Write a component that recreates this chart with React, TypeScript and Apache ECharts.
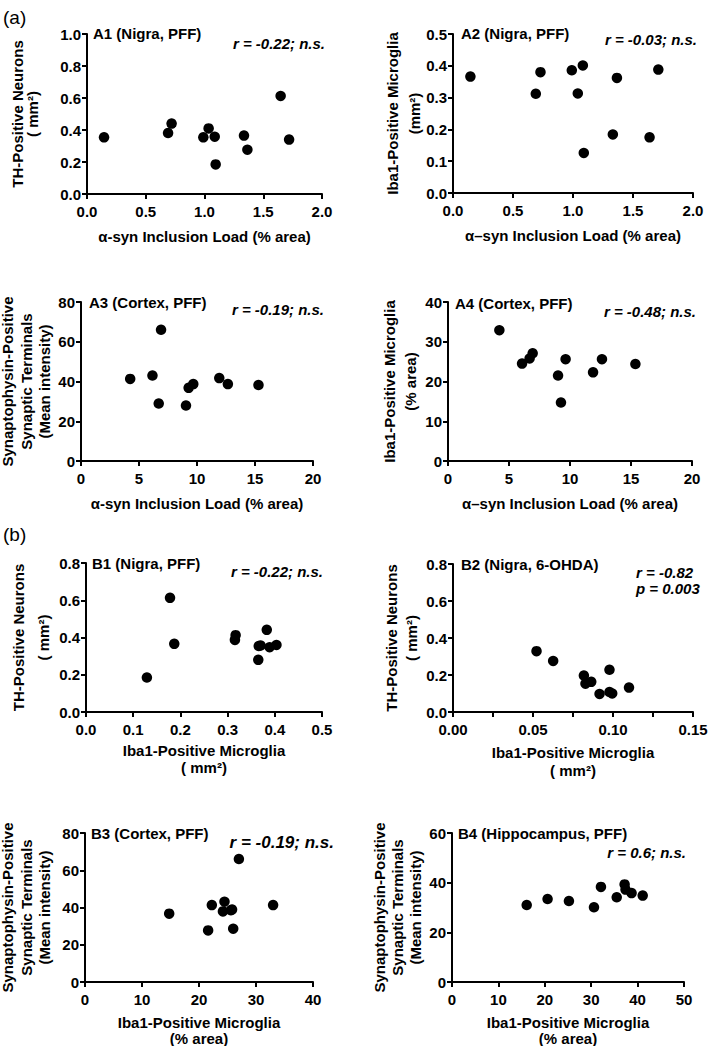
import React, { useEffect, useRef } from "react";
import * as echarts from "echarts";

// ---------- data ----------
const A1_LOAD = [0.145, 0.69, 0.72, 0.99, 1.035, 1.087, 1.095, 1.336, 1.365, 1.648, 1.72];
const A1_TH = [0.354, 0.381, 0.44, 0.354, 0.41, 0.358, 0.185, 0.365, 0.277, 0.6125, 0.34];

const A2_LOAD = [0.145, 0.69, 0.729, 0.99, 1.04, 1.082, 1.09, 1.332, 1.366, 1.638, 1.711];
const A2_IBA1 = [0.366, 0.312, 0.38, 0.386, 0.313, 0.401, 0.126, 0.184, 0.362, 0.175, 0.388];

const A3_LOAD = [4.24, 6.16, 6.9, 6.7, 9.05, 9.28, 9.68, 11.92, 12.66, 15.3];
const A3_SYN = [41.3, 43.0, 66.0, 28.9, 27.9, 36.8, 38.7, 41.7, 38.7, 38.2];

const A4_LOAD = [4.21, 6.07, 6.69, 6.94, 9.02, 9.26, 9.64, 11.89, 12.62, 15.36];
const A4_IBA1 = [32.9, 24.5, 25.8, 27.1, 21.5, 14.7, 25.6, 22.3, 25.6, 24.4];

const B1_IBA1 = [0.129, 0.178, 0.187, 0.3155, 0.317, 0.365, 0.366, 0.37, 0.383, 0.389, 0.4035];
const B1_TH = [0.185, 0.613, 0.366, 0.387, 0.4126, 0.28, 0.354, 0.357, 0.441, 0.348, 0.36];

const B2_IBA1 = [0.0522, 0.0626, 0.0818, 0.0828, 0.0864, 0.0916, 0.0978, 0.0978, 0.0995, 0.11];
const B2_TH = [0.329, 0.276, 0.197, 0.153, 0.163, 0.0975, 0.228, 0.108, 0.1, 0.132];

const B3_IBA1 = [14.77, 21.6, 22.25, 24.47, 24.2, 25.6, 25.8, 26.0, 27.0, 33.0];
const B3_SYN = [36.7, 27.7, 41.3, 43.1, 37.9, 38.5, 38.9, 28.6, 66.0, 41.3];

const B4_IBA1 = [16.1, 20.6, 25.2, 30.6, 32.1, 35.5, 37.2, 37.4, 38.7, 41.1];
const B4_SYN = [31.0, 33.4, 32.6, 30.1, 38.3, 34.1, 39.3, 37.2, 35.8, 34.8];

const PANEL_TITLES = [
  "A1 (Nigra, PFF)",
  "A2 (Nigra, PFF)",
  "A3 (Cortex, PFF)",
  "A4 (Cortex, PFF)",
  "B1 (Nigra, PFF)",
  "B2 (Nigra, 6-OHDA)",
  "B3 (Cortex, PFF)",
  "B4 (Hippocampus, PFF)",
];
const STATS = [
  "r = -0.22; n.s.",
  "r = -0.03; n.s.",
  "r = -0.19; n.s.",
  "r = -0.48; n.s.",
  "r = -0.22; n.s.",
  "r = -0.82\np = 0.003",
  "r = -0.19; n.s.",
  "r = 0.6; n.s.",
];
const X_TITLES = [
  "α-syn Inclusion Load (% area)",
  "α–syn Inclusion Load (% area)",
  "α-syn Inclusion Load (% area)",
  "α–syn Inclusion Load (% area)",
  "Iba1-Positive Microglia\n( mm²)",
  "Iba1-Positive Microglia\n( mm²)",
  "Iba1-Positive Microglia\n(% area)",
  "Iba1-Positive Microglia\n(% area)",
];
const Y_TITLES = [
  "TH-Positive Neurons\n( mm²)",
  "Iba1-Positive Microglia\n(mm²)",
  "Synaptophysin-Positive\nSynaptic Terminals\n(Mean intensity)",
  "Iba1-Positive Microglia\n(% area)",
  "TH-Positive Neurons\n( mm²)",
  "TH-Positive Neurons\n( mm²)",
  "Synaptophysin-Positive\nSynaptic Terminals\n(Mean intensity)",
  "Synaptophysin-Positive\nSynaptic Terminals\n(Mean intensity)",
];
const SERIES_X = [A1_LOAD, A2_LOAD, A3_LOAD, A4_LOAD, B1_IBA1, B2_IBA1, B3_IBA1, B4_IBA1];
const SERIES_Y = [A1_TH, A2_IBA1, A3_SYN, A4_IBA1, B1_TH, B2_TH, B3_SYN, B4_SYN];

// axis ranges: [min, max, interval, decimals, labelEvery]
const X_SCALES = [
  [0, 2, 0.5, 1, 1],
  [0, 2, 0.5, 1, 1],
  [0, 20, 5, 0, 1],
  [0, 20, 5, 0, 1],
  [0, 0.5, 0.1, 1, 1],
  [0, 0.15, 0.025, 2, 2],
  [0, 40, 10, 0, 1],
  [0, 50, 10, 0, 1],
];
const Y_SCALES = [
  [0, 1, 0.2, 1],
  [0, 0.5, 0.1, 1],
  [0, 80, 20, 0],
  [0, 40, 10, 0],
  [0, 0.8, 0.2, 1],
  [0, 0.8, 0.2, 1],
  [0, 80, 20, 0],
  [0, 60, 20, 0],
];

// ---------- layout ----------
const FONT = '"Liberation Sans", Arial, sans-serif';
const GRIDS = [
  { left: 87, top: 34, width: 235, height: 160 },
  { left: 453, top: 34, width: 240, height: 159 },
  { left: 81, top: 302, width: 232, height: 159 },
  { left: 448, top: 302, width: 244, height: 159 },
  { left: 86, top: 563, width: 236, height: 149 },
  { left: 453, top: 564, width: 240, height: 148 },
  { left: 85, top: 833, width: 228, height: 149 },
  { left: 452, top: 833, width: 232, height: 149 },
];
// y-axis name: [lineHeight, nameGap]
const Y_NAME = [
  [15, 47],
  [22, 28],
  [18.5, 27],
  [21, 27],
  [25, 30],
  [20, 32],
  [18.5, 31],
  [18, 28],
];
// x-axis name: [lineHeight, nameGap]
const X_NAME = [
  [16, 34],
  [16, 34],
  [16, 34],
  [16, 34],
  [17, 30],
  [18, 31],
  [16, 32],
  [16, 32],
];
// title anchors (left-aligned)
const TITLE_POS = [
  [93, 33],
  [461, 33],
  [89, 302],
  [455, 303],
  [92, 563],
  [461, 564],
  [91, 833],
  [458, 833],
];
// stats anchors: [x, y, align, fontSize]
const STAT_POS: [number, number, string, number][] = [
  [325, 43, "right", 15],
  [697, 39, "right", 15],
  [324, 309, "right", 15],
  [696, 311, "right", 15],
  [323, 571, "right", 15],
  [636, 580, "left", 15],
  [334, 842, "right", 17],
  [686, 852, "right", 15],
];

function fmt(v: number, d: number) {
  return (Math.round(v * 1e6) / 1e6).toFixed(d);
}

export default function App() {
  const ref = useRef<HTMLDivElement>(null);
  useEffect(() => {
    if (!ref.current) return;
    const chart = echarts.init(ref.current, undefined, { renderer: "svg" });
    const axisCommon = {
      axisLine: { show: true, lineStyle: { color: "#000", width: 2 } },
      axisTick: { show: true, length: 5, lineStyle: { color: "#000", width: 2 } },
      splitLine: { show: false },
      nameLocation: "middle" as const,
      nameMoveOverlap: false,
    };
    const grid = GRIDS.map((g) => ({ ...g, containLabel: false, outerBoundsMode: "none" }));
    const xAxis = X_SCALES.map(([min, max, interval, dec, every], i) => ({
      ...axisCommon,
      type: "value",
      gridIndex: i,
      min,
      max,
      interval,
      name: X_TITLES[i],
      nameGap: X_NAME[i][1],
      nameTextStyle: {
        color: "#000",
        fontFamily: FONT,
        fontWeight: "bold",
        fontSize: 15,
        lineHeight: X_NAME[i][0],
      },
      axisLabel: {
        color: "#000",
        fontFamily: FONT,
        fontWeight: "bold",
        fontSize: 15,
        margin: 10,
        formatter: (v: number) => {
          const k = Math.round(v / interval);
          return k % every === 0 ? fmt(v, dec) : "";
        },
      },
    }));
    const yAxis = Y_SCALES.map(([min, max, interval, dec], i) => ({
      ...axisCommon,
      type: "value",
      gridIndex: i,
      min,
      max,
      interval,
      name: Y_TITLES[i],
      nameRotate: 90,
      nameGap: Y_NAME[i][1],
      nameTextStyle: {
        color: "#000",
        fontFamily: FONT,
        fontWeight: "bold",
        fontSize: 15,
        lineHeight: Y_NAME[i][0],
        align: "center",
      },
      axisLabel: {
        color: "#000",
        fontFamily: FONT,
        fontWeight: "bold",
        fontSize: 15,
        margin: 6,
        formatter: (v: number) => fmt(v, dec),
      },
    }));
    const series = SERIES_X.map((xs, i) => ({
      type: "scatter",
      xAxisIndex: i,
      yAxisIndex: i,
      symbol: "circle",
      symbolSize: 10.5,
      itemStyle: { color: "#000", opacity: 1 },
      emphasis: { disabled: true },
      clip: false,
      data: xs.map((x, j) => [x, SERIES_Y[i][j]]),
    }));
    const graphic: any[] = [];
    graphic.push({
      type: "text",
      x: 3,
      y: 17,
      style: { text: "(a)", fontFamily: FONT, fontSize: 19, fill: "#000", align: "left", verticalAlign: "middle" },
    });
    graphic.push({
      type: "text",
      x: 3,
      y: 534,
      style: { text: "(b)", fontFamily: FONT, fontSize: 19, fill: "#000", align: "left", verticalAlign: "middle" },
    });
    PANEL_TITLES.forEach((t, i) => {
      graphic.push({
        type: "text",
        x: TITLE_POS[i][0],
        y: TITLE_POS[i][1],
        style: {
          text: t,
          fontFamily: FONT,
          fontWeight: "bold",
          fontSize: 15,
          fill: "#000",
          align: "left",
          verticalAlign: "middle",
        },
      });
    });
    STATS.forEach((t, i) => {
      const [x, y, align, size] = STAT_POS[i];
      graphic.push({
        type: "text",
        x,
        y,
        style: {
          text: t,
          fontFamily: FONT,
          fontWeight: "bold",
          fontStyle: "italic",
          fontSize: size,
          lineHeight: 16,
          fill: "#000",
          align,
          verticalAlign: "middle",
        },
      });
    });
    chart.setOption({
      animation: false,
      backgroundColor: "#fff",
      grid,
      xAxis,
      yAxis,
      series,
      graphic,
    } as any);
    return () => chart.dispose();
  }, []);
  return (
    <div
      ref={ref}
      style={{ position: "absolute", left: 0, top: 0, width: 709, height: 1046, background: "#fff" }}
    />
  );
}
